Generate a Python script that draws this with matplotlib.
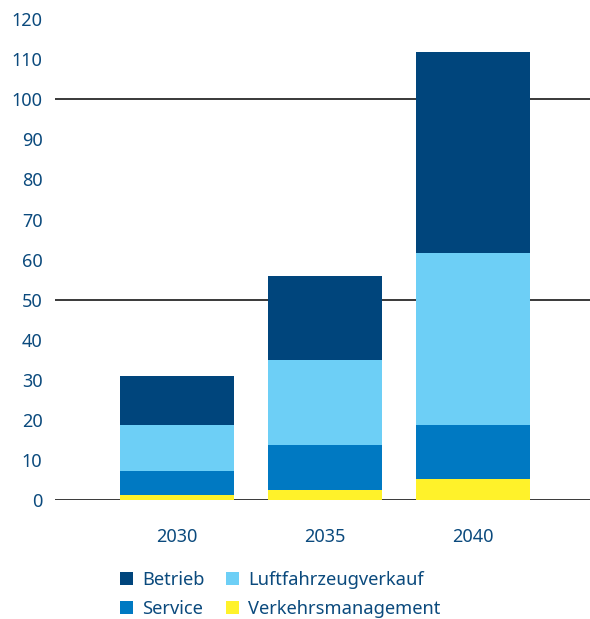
import numpy as np
import matplotlib.pyplot as plt

years = ["2030", "2035", "2040"]
verkehr = [1.2, 2.5, 5.25]
service = [6.0, 11.25, 13.5]
luftfahrzeug = [11.5, 21.25, 43.0]
betrieb = [12.3, 21.0, 50.0]

c_text = "#0b4a7d"
colors = {"Verkehrsmanagement": "#fff22a", "Service": "#0079c2",
          "Luftfahrzeugverkauf": "#6dcff6", "Betrieb": "#00457c"}

plt.rcParams['font.family'] = ['Noto Sans', 'DejaVu Sans']

fig = plt.figure(figsize=(5.9, 6.19), dpi=100)
ax = fig.add_axes([0.0932, 0.1922, 0.9068, 0.969 - 0.1922])

x = np.arange(len(years))
w = 0.77
bottom = np.zeros(len(years))
bars = {}
for name, vals in [("Verkehrsmanagement", verkehr), ("Service", service),
                   ("Luftfahrzeugverkauf", luftfahrzeug), ("Betrieb", betrieb)]:
    bars[name] = ax.bar(x, vals, w, bottom=bottom, color=colors[name], zorder=3, label=name)
    bottom += np.array(vals)

# only three horizontal rules
for yv in [0, 50, 100]:
    ax.axhline(yv, color="#2a2a2a", lw=1.3, zorder=2)

ax.set_xlim(-0.824, 2.79)
ax.set_ylim(0, 120)
ax.set_yticks(range(0, 121, 10))
ax.set_xticks(x)
ax.set_xticklabels(years)
for s in ax.spines.values():
    s.set_visible(False)
ax.tick_params(axis='y', length=0, pad=9, labelsize=13, labelcolor=c_text)
ax.tick_params(axis='x', length=0, pad=20, labelsize=13, labelcolor=c_text)

handles = [bars["Betrieb"], bars["Service"], bars["Luftfahrzeugverkauf"], bars["Verkehrsmanagement"]]
labels = ["Betrieb", "Service", "Luftfahrzeugverkauf", "Verkehrsmanagement"]
leg = fig.legend(handles, labels, ncol=2, loc="upper left", bbox_to_anchor=(0.2036, 0.077),
                 frameon=False, fontsize=13.2, handlelength=0.72, handleheight=0.72,
                 handletextpad=0.5, columnspacing=1.15, labelspacing=0.57,
                 borderpad=0, borderaxespad=0)
for t in leg.get_texts():
    t.set_color(c_text)

fig.savefig("out.png", dpi=100)
